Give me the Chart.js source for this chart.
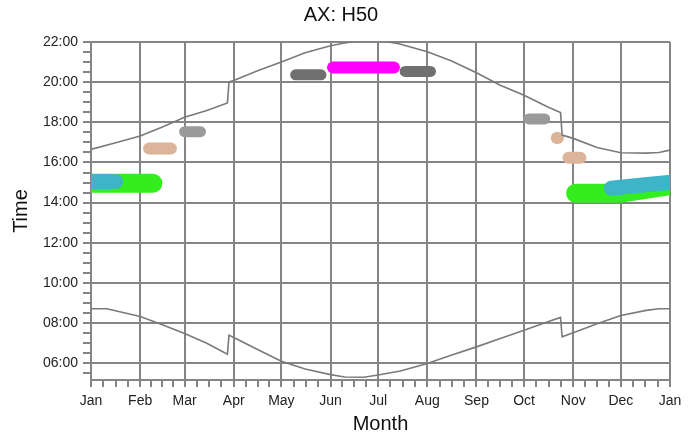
<!DOCTYPE html>
<html>
<head>
<meta charset="utf-8">
<script src="https://cdn.jsdelivr.net/npm/chart.js@4.4.1/dist/chart.umd.min.js"></script>
<style>
  html, body { margin: 0; padding: 0; background: #fff; }
  #wrap { width: 697px; height: 439px; }
</style>
</head>
<body>
<div id="wrap"><canvas id="chart"></canvas></div>
<script>
const chartTitle = 'AX: H50';
const monthLabels = ['Jan', 'Feb', 'Mar', 'Apr', 'May', 'Jun', 'Jul', 'Aug', 'Sep', 'Oct', 'Nov', 'Dec', 'Jan'];
const monthStarts = [0, 31, 59, 90, 120, 151, 181, 212, 243, 273, 304, 334, 365];

// sunset / sunrise, day of year -> clock time (DST jumps in late Mar / late Oct)
const sunsetDays = [0, 15, 31, 45, 59, 73, 86, 87, 90, 105, 120, 135, 151, 160, 172, 184, 193, 212, 227, 243, 258, 273, 288, 296, 297, 304, 319, 334, 350, 358, 365];
const sunsetTimes = ['16:39', '16:58', '17:19', '17:46', '18:15', '18:35', '18:58', '20:01', '20:05', '20:34', '21:00', '21:28', '21:49', '21:57', '22:06', '22:03', '21:56', '21:31', '21:04', '20:28', '19:51', '19:21', '18:46', '18:29', '17:22', '17:12', '16:45', '16:29', '16:28', '16:30', '16:37'];
const sunriseDays = [0, 10, 31, 45, 59, 73, 86, 87, 90, 105, 120, 135, 151, 160, 172, 181, 195, 212, 227, 243, 258, 273, 288, 296, 297, 304, 319, 334, 350, 358, 365];
const sunriseTimes = ['08:43', '08:43', '08:20', '07:55', '07:29', '07:00', '06:27', '07:24', '07:17', '06:41', '06:06', '05:43', '05:26', '05:19', '05:18', '05:25', '05:37', '05:59', '06:24', '06:49', '07:14', '07:39', '08:04', '08:17', '07:19', '07:31', '07:58', '08:23', '08:38', '08:43', '08:43'];

// coloured runs, a null time splits separate runs
const tealDays = [-8, 15.5, 100, 328, 346, 368];
const tealTimes = ['15:03', '15:03', null, '14:43', '14:52', '15:02'];
const greenDays = [-8, 39, 100, 305.5, 333, 368];
const greenTimes = ['14:58', '14:58', null, '14:28', '14:28', '14:53'];
const tanDays = [36.6, 50.4, 200, 293.6, 294.4, 297, 301, 308.5];
const tanTimes = ['16:42', '16:42', null, '17:13', '17:13', null, '16:14', '16:14'];
const lightGreyDays = [59, 69, 200, 276, 286];
const lightGreyTimes = ['17:32', '17:32', null, '18:10', '18:10'];
const darkGreyDays = [129, 145, 170, 198, 214];
const darkGreyTimes = ['20:22', '20:22', null, '20:32', '20:32'];
const magentaDays = [152.6, 191];
const magentaTimes = ['20:44', '20:44'];

const FONT = '"Liberation Sans", Arial, sans-serif';
const gridColor = '#858585';

function toMin(t) {
  if (t === null) return null;
  const [h, m] = t.split(':').map(Number);
  return h * 60 + m;
}
function pts(days, times) {
  return days.map((d, i) => ({ x: d, y: toMin(times[i]) }));
}
function hhmm(v) {
  const h = Math.floor(v / 60), m = v % 60;
  return String(h).padStart(2, '0') + ':' + String(m).padStart(2, '0');
}

// month starts plus quarter-month minor ticks
const xTickValues = [];
for (let i = 0; i < 12; i++) {
  const a = monthStarts[i], b = monthStarts[i + 1];
  xTickValues.push(a);
  for (let k = 1; k < 4; k++) xTickValues.push(a + (b - a) * k / 4);
}
xTickValues.push(365);

function blob(data, color, width) {
  return {
    data, borderColor: color, backgroundColor: color, borderWidth: width,
    borderCapStyle: 'round', borderJoinStyle: 'round',
    pointRadius: 0, tension: 0, spanGaps: false, clip: 0
  };
}
function dayLine(data) {
  return {
    data, borderColor: '#7a7a7a', borderWidth: 1.6,
    pointRadius: 0, tension: 0, clip: 0
  };
}

const titlePlugin = {
  id: 'figTitle',
  afterDraw(chart) {
    const ctx = chart.ctx;
    ctx.save();
    ctx.font = '20px ' + FONT;
    ctx.fillStyle = '#111';
    ctx.textAlign = 'center';
    ctx.textBaseline = 'middle';
    ctx.fillText(chartTitle, 341, 15);
    ctx.restore();
  }
};

new Chart(document.getElementById('chart'), {
  type: 'line',
  data: {
    datasets: [
      dayLine(pts(sunsetDays, sunsetTimes)),
      dayLine(pts(sunriseDays, sunriseTimes)),
      blob(pts(tealDays, tealTimes), '#3db5c6', 15),
      blob(pts(greenDays, greenTimes), '#33ee1c', 19),
      blob(pts(tanDays, tanTimes), '#dcb49a', 12),
      blob(pts(lightGreyDays, lightGreyTimes), '#9a9a9a', 11),
      blob(pts(darkGreyDays, darkGreyTimes), '#707070', 11),
      blob(pts(magentaDays, magentaTimes), '#ff00ff', 12)
    ]
  },
  options: {
    responsive: true,
    maintainAspectRatio: false,
    animation: false,
    layout: { padding: { top: 42, right: 27, left: 0, bottom: 0 } },
    plugins: { legend: { display: false }, tooltip: { enabled: false }, title: { display: false } },
    scales: {
      x: {
        type: 'linear', min: 0, max: 365, z: 1,
        afterBuildTicks: s => { s.ticks = xTickValues.map(v => ({ value: v })); },
        afterFit: s => { s.height = 59; },
        ticks: {
          autoSkip: false, maxRotation: 0, padding: 6, color: '#222',
          font: { family: FONT, size: 14 },
          callback: v => { const i = monthStarts.indexOf(v); return i >= 0 ? monthLabels[i] : ''; }
        },
        grid: {
          color: c => (c.tick && monthStarts.includes(c.tick.value)) ? gridColor : 'rgba(0,0,0,0)',
          lineWidth: 2, tickColor: gridColor, tickLength: 7, tickWidth: 2
        },
        border: { color: gridColor, width: 2 },
        title: { display: true, text: 'Month', color: '#111', font: { family: FONT, size: 20 }, padding: { top: 0, bottom: 3 } }
      },
      y: {
        type: 'linear', min: 310, max: 1320, z: 1,
        afterFit: s => { s.width = 91; },
        ticks: {
          stepSize: 30, includeBounds: false, autoSkip: false, padding: 5, color: '#222',
          font: { family: FONT, size: 14 },
          callback: v => (v % 120 === 0 ? hhmm(v) : '')
        },
        grid: {
          color: c => (c.tick && c.tick.value % 120 === 0) ? gridColor : 'rgba(0,0,0,0)',
          lineWidth: 2, tickColor: gridColor, tickLength: 8, tickWidth: 2
        },
        border: { color: gridColor, width: 2 },
        title: { display: true, text: 'Time', color: '#111', font: { family: FONT, size: 20 }, padding: { top: 9, bottom: 0 } }
      }
    }
  },
  plugins: [titlePlugin]
});
</script>
</body>
</html>
